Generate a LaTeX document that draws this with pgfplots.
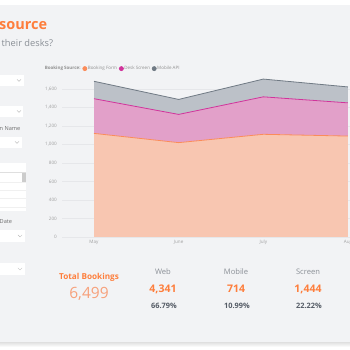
\documentclass[border=0pt]{standalone}
\usepackage{pgfplots}
\pgfplotsset{compat=1.18}
\usepackage{fontspec}
\setmainfont{Open Sans}
\definecolor{bg}{RGB}{242,243,245}
\definecolor{ttl}{RGB}{254,126,60}
\definecolor{ttllight}{RGB}{247,160,122}
\definecolor{subg}{RGB}{138,143,150}
\definecolor{darkg}{RGB}{85,92,102}
\definecolor{lblg}{RGB}{110,110,110}
\definecolor{tickg}{RGB}{160,160,160}
\definecolor{gridc}{RGB}{230,231,234}
\definecolor{bfFill}{RGB}{248,198,177}
\definecolor{bfLine}{RGB}{251,140,90}
\definecolor{dsFill}{RGB}{226,160,201}
\definecolor{dsLine}{RGB}{208,52,155}
\definecolor{maFill}{RGB}{188,193,200}
\definecolor{maLine}{RGB}{112,122,132}
\definecolor{chev}{RGB}{170,170,170}
\newcommand{\fs}[1]{\fontsize{#1}{#1}\selectfont}
\pgfplotsset{
  base/.style={
    at={(62pt,113pt)}, anchor=south west, scale only axis,
    width=288.5pt, height=161.9pt,
    xmin=-0.378, xmax=3.03, ymin=0, ymax=1750,
    stack plots=y,
  }
}
\begin{document}
\begin{tikzpicture}
\useasboundingbox (0pt,0pt) rectangle (350pt,350pt);
\clip (0pt,0pt) rectangle (350pt,350pt);
\begin{scope}[x=1pt,y=-1pt,shift={(0pt,350pt)}]
\fill[white] (0,0) rectangle (350,350);
\fill[bg] (0,5) rectangle (350,343);
\shade[top color=black!10, bottom color=white] (0,343) rectangle (350,347);
% title
\node[anchor=base west, inner sep=0pt, text=ttl, font=\fs{14.5}\bfseries] at (-1,30) {source};
\node[anchor=base west, inner sep=0pt, text=subg, font=\fs{9.3}] at (1.5,47) {their desks?};
% left panel
\foreach \ya/\yb/\xr/\cx in {75/86/24/19, 106/117/23/19, 137/148/22/17, 230/242/25/20, 263/275/25/20}{
  \fill[white] (0,\ya) rectangle (\xr,\yb);
  \draw[chev, line width=0.35pt] (\cx-2,{(\ya+\yb)/2-1}) -- (\cx,{(\ya+\yb)/2+1}) -- (\cx+2,{(\ya+\yb)/2-1});
}
\node[anchor=base west, inner sep=0pt, text=lblg, font=\fs{5.6}] at (-0.5,131) {n Name};
\node[anchor=base west, inner sep=0pt, text=lblg, font=\fs{5.6}] at (-0.5,223.5) {Date};
\fill[white] (0,163) rectangle (26,211.5);
\draw[gray!25, line width=0.4pt] (0,172.5) -- (26,172.5);
\foreach \yy in {182,190.7,198.7,207.3}{\draw[gray!12, line width=0.4pt] (0,\yy) -- (26,\yy);}
\fill[gray!40] (22.3,172.8) rectangle (25.8,181.8);
% KPIs
\node[text=ttl, font=\fs{8.2}\bfseries, inner sep=0pt] at (89,277) {Total Bookings};
\node[text=ttllight, font=\fs{15.5}, inner sep=0pt] at (89,294) {6,499};
\foreach \cx/\lab/\val/\pct in {163/Web/{4,341}/66.79\%, 236/Mobile/714/10.99\%, 308/Screen/{1,444}/22.22\%}{
  \node[text=subg, font=\fs{7.6}, inner sep=0pt] at (\cx,272) {\lab};
  \node[text=ttl, font=\fs{10.5}\bfseries, inner sep=0pt] at (\cx,289) {\val};
  \node[text=darkg, font=\fs{7.4}\bfseries, inner sep=0pt] at (\cx+1,306) {\pct};
}
\end{scope}
% areas
\begin{axis}[base,
  axis line style={draw=none}, major tick length=0pt,
  ymajorgrids, grid style={color=gridc, line width=0.4pt},
  xtick={0,1,2,3}, xticklabels={May,June,July,Aug},
  ytick={0,200,...,1600},
  /pgf/number format/assume math mode=true,
  /pgf/number format/1000 sep={,},
  tick label style={text=tickg, font=\fs{4.6}, inner sep=0pt},
  yticklabel style={anchor=east, xshift=-5pt},
  xticklabel style={anchor=north, yshift=-3pt},
]
\addplot[draw=none, fill=bfFill] coordinates {(0,1120) (1,1020) (2,1110) (3,1091)} \closedcycle;
\addplot[draw=none, fill=dsFill] coordinates {(0,375) (1,305) (2,405) (3,359)} \closedcycle;
\addplot[draw=none, fill=maFill] coordinates {(0,188) (1,162) (2,192) (3,172)} \closedcycle;
\end{axis}
% lines + legend
\begin{axis}[base, hide axis,
  legend columns=-1,
  legend style={at={(-0.0624,1.04)}, anchor=west, draw=none, fill=none,
    inner sep=0pt, font=\fs{4.5}, text=tickg!90!black,
    nodes={inner sep=0.6pt},
    /tikz/every even column/.append style={column sep=1.2pt}},
  legend image code/.code={\fill[#1] (2pt,0pt) circle (2pt);},
]
\addlegendimage{empty legend}
\addlegendentry{\textbf{Booking Source:}\hspace{1pt}}
\addplot[color=bfLine, line width=0.8pt] coordinates {(0,1120) (1,1020) (2,1110) (3,1091)};
\addlegendentry{Booking Form}
\addplot[color=dsLine, line width=0.8pt] coordinates {(0,375) (1,305) (2,405) (3,359)};
\addlegendentry{Desk Screen}
\addplot[color=maLine, line width=0.8pt] coordinates {(0,188) (1,162) (2,192) (3,172)};
\addlegendentry{Mobile API}
\end{axis}
\end{tikzpicture}
\end{document}
